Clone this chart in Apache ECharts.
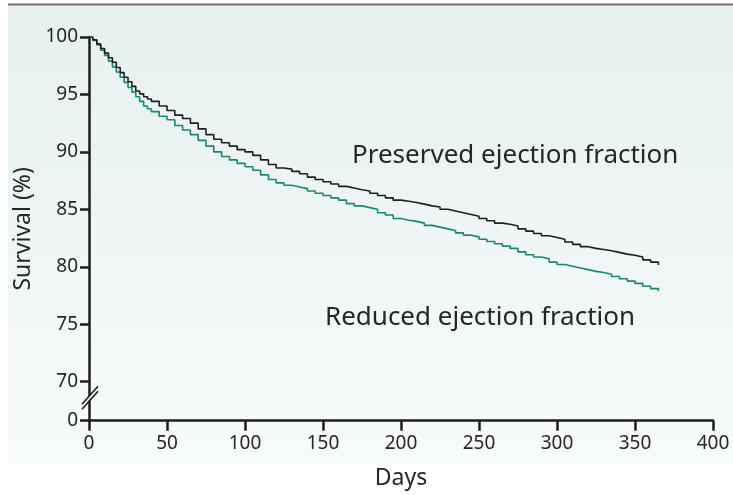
<!DOCTYPE html>
<html>
<head>
<meta charset="utf-8">
<script src="https://cdn.jsdelivr.net/npm/echarts@6/dist/echarts.min.js"></script>
<style>
html,body{margin:0;padding:0;background:#ffffff;}
#chart{width:733px;height:495px;}
</style>
</head>
<body>
<div id="chart"></div>
<script>
var days = [0,2.5,5,7.5,10,12.5,15,17.5,20,22.5,25,27.5,30,32.5,35,37.5,40,
  45,50,55,60,65,70,75,80,85,90,95,100,105,110,115,120,125,130,135,140,
  145,150,155,160,165,170,175,180,185,190,195,200,205,210,215,220,225,230,235,240,
  245,250,255,260,265,270,275,280,285,290,295,300,305,310,315,320,325,330,335,340,
  345,350,355,360,365];
var preserved = [100,99.75,99.4,99.0,98.6,98.2,97.8,97.35,96.9,96.5,96.1,95.7,95.3,95.05,94.8,94.6,94.4,
  94.0,93.6,93.2,92.9,92.5,92.0,91.5,91.1,90.8,90.5,
  90.2,90.0,89.7,89.3,88.9,88.6,88.5,88.3,88.1,87.8,
  87.6,87.4,87.2,87.0,86.85,86.7,86.6,86.4,86.2,86.0,
  85.8,85.7,85.6,85.45,85.3,85.2,85.0,84.85,84.7,84.55,
  84.4,84.2,84.0,83.8,83.7,83.55,83.3,83.1,82.9,82.7,
  82.55,82.4,82.15,81.95,81.75,81.6,81.5,81.4,81.25,81.1,
  81.0,80.85,80.6,80.4,80.15];
var reduced = [100,99.7,99.3,98.85,98.4,97.9,97.4,96.95,96.5,96.05,95.6,95.2,94.8,94.4,94.0,93.75,93.5,
  93.1,92.8,92.3,91.9,91.5,91.0,90.5,90.0,89.6,89.3,
  89.0,88.7,88.4,88.0,87.6,87.3,87.1,86.95,86.8,86.6,
  86.4,86.2,86.0,85.8,85.5,85.3,85.15,85.0,84.7,84.5,
  84.2,84.05,83.95,83.8,83.6,83.45,83.3,83.15,82.95,82.75,
  82.6,82.4,82.2,82.0,81.8,81.6,81.3,81.05,80.85,80.7,
  80.4,80.2,80.05,79.9,79.75,79.6,79.5,79.35,79.15,78.95,
  78.75,78.55,78.3,78.1,77.9];
var yTickValues = [66.6,70,75,80,85,90,95,100];
var yTickLabels = ['0','70','75','80','85','90','95','100'];
var breakValue = 68.55;
var seriesNames = ['Preserved ejection fraction','Reduced ejection fraction'];

function pairs(xs, ys){ return xs.map(function(x,i){ return [x, ys[i]]; }); }

var FONT = '"Noto Sans", "Open Sans", sans-serif';
var TXT = '#262626';
var AX = '#1e1e1e';
var chart = echarts.init(document.getElementById('chart'), null, {renderer:'canvas'});

var option = {
  animation: false,
  backgroundColor: '#ffffff',
  grid: {left: 89, right: 20, top: 37, bottom: 74.3, containLabel: false},
  xAxis: {
    type: 'value', min: 0, max: 400, interval: 50,
    name: 'Days', nameLocation: 'middle', nameGap: 46,
    nameTextStyle: {fontFamily: FONT, fontSize: 23, color: TXT},
    axisLine: {show: true, onZero: false, lineStyle: {color: AX, width: 2.5}},
    axisTick: {show: true, inside: false, length: 10, lineStyle: {color: AX, width: 2.5}},
    axisLabel: {fontFamily: FONT, fontSize: 19, color: TXT, margin: 13},
    splitLine: {show: false}
  },
  yAxis: {
    type: 'value', min: 66.6, max: 100,
    name: 'Survival (%)', nameLocation: 'middle', nameGap: 50, nameRotate: 90,
    nameTextStyle: {fontFamily: FONT, fontSize: 23, color: TXT},
    axisLine: {show: true, onZero: false, lineStyle: {color: AX, width: 2.5}},
    axisTick: {show: true, inside: false, length: 9, customValues: yTickValues, lineStyle: {color: AX, width: 2.5}},
    axisLabel: {
      fontFamily: FONT, fontSize: 19, color: TXT, margin: 11,
      customValues: yTickValues,
      formatter: function(v){
        for (var i = 0; i < yTickValues.length; i++) {
          if (Math.abs(yTickValues[i] - v) < 0.01) return yTickLabels[i];
        }
        return '';
      }
    },
    splitLine: {show: false}
  },
  series: [
    {
      name: seriesNames[0], type: 'line', step: 'end', showSymbol: false, symbol: 'none',
      data: pairs(days, preserved), z: 3,
      lineStyle: {color: '#1f1f1f', width: 1.6}
    },
    {
      name: seriesNames[1], type: 'line', step: 'end', showSymbol: false, symbol: 'none',
      data: pairs(days, reduced), z: 2,
      lineStyle: {color: '#17896f', width: 1.6}
    }
  ]
};
chart.setOption(option);

var x0 = chart.convertToPixel({xAxisIndex: 0}, 0);
var yb = chart.convertToPixel({yAxisIndex: 0}, breakValue);
chart.setOption({
  graphic: [
    {type: 'rect', z: -10, silent: true, shape: {x: 8, y: 6, width: 725, height: 458},
     style: {fill: new echarts.graphic.LinearGradient(0,0,0,1,[{offset:0,color:'#e6f1ef'},{offset:1,color:'#f8fbfb'}])}},
    {type: 'line', z: -5, silent: true, shape: {x1: 8, y1: 4.5, x2: 733, y2: 4.5}, style: {stroke: '#6e6e6e', lineWidth: 2}},
    {type: 'polygon', z: 100, silent: true,
     shape: {points: [[x0-6, yb+9], [x0+7, yb-6], [x0+7, yb-10], [x0-6, yb+5]]},
     style: {fill: '#f6faf9'}},
    {type: 'line', z: 101, silent: true, shape: {x1: x0-7, y1: yb+11, x2: x0+9, y2: yb-7}, style: {stroke: AX, lineWidth: 1.6}},
    {type: 'line', z: 101, silent: true, shape: {x1: x0-7, y1: yb+6, x2: x0+9, y2: yb-12}, style: {stroke: AX, lineWidth: 1.6}},
    {type: 'text', z: 50, silent: true, left: 352, top: 143,
     style: {text: seriesNames[0], fontFamily: FONT, fontSize: 26, fill: TXT}},
    {type: 'text', z: 50, silent: true, left: 325, top: 305,
     style: {text: seriesNames[1], fontFamily: FONT, fontSize: 26, fill: TXT}}
  ]
});
</script>
</body>
</html>
